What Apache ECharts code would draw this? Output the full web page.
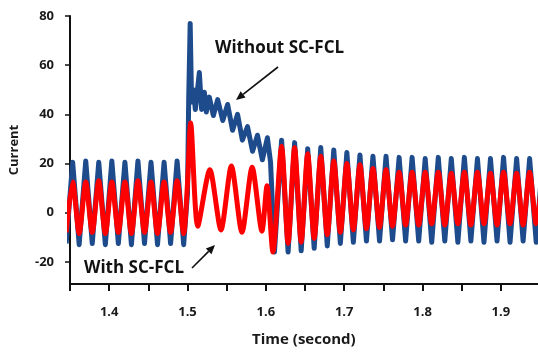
<!DOCTYPE html>
<html>
<head>
<meta charset="utf-8">
<script src="https://cdn.jsdelivr.net/npm/echarts@6/dist/echarts.min.js"></script>
<style>
  html, body { margin: 0; padding: 0; background: #fff; }
  #chart { width: 538px; height: 352px; }
</style>
</head>
<body>
<div id="chart"></div>
<script>
// Fault current, without limiter (blue) and with SC-FCL (red)
const blueTime = [
  1.3451, 1.3534, 1.3617, 1.3701, 1.3784, 1.3867, 1.3951, 1.4034, 1.4117, 1.4201,
  1.4284, 1.4367, 1.4451, 1.4534, 1.4617, 1.4701, 1.4784, 1.4867, 1.4951,
  1.5000, 1.5015, 1.5034, 1.5052, 1.5075, 1.5100, 1.5151, 1.5180, 1.5215, 1.5240,
  1.5278, 1.5330, 1.5385, 1.5450, 1.5512, 1.5575, 1.5639, 1.5700, 1.5766, 1.5830,
  1.5893, 1.5955, 1.6020, 1.6060, 1.6110,
  1.6201, 1.6284, 1.6367, 1.6451, 1.6534, 1.6617, 1.6701, 1.6784, 1.6867, 1.6951,
  1.7034, 1.7117, 1.7201, 1.7284, 1.7367, 1.7451, 1.7534, 1.7617, 1.7701, 1.7784,
  1.7867, 1.7951, 1.8034, 1.8117, 1.8201, 1.8284, 1.8367, 1.8451, 1.8534, 1.8617,
  1.8701, 1.8784, 1.8867, 1.8951, 1.9034, 1.9117, 1.9201, 1.9284, 1.9367, 1.9451, 1.9534
];
const blueCurrent = [
  -12.5, 20.5, -13, 21, -12.5, 20.5, -13, 21, -12.5, 20.5,
  -13, 21, -12.5, 20.5, -13, 20.5, -12.5, 21, -13,
  8, 46, 77, 45, 50, 42, 57, 42, 49, 41,
  47, 39.5, 46, 37.5, 44, 33.5, 40, 29.5, 35, 25,
  31.5, 21.5, 30.5, 20.5, -16,
  29.5, -16, 28.5, -15.5, 26, -14.5, 26.5, -13.5, 25.5, -12.5,
  24.5, -12, 23.5, -11.5, 23, -11.5, 23, -11, 22.5, -11.5,
  22.5, -11.5, 22, -12, 22.5, -11.5, 22, -12, 22.5, -11.5,
  22, -12, 22, -11.5, 22.5, -12, 22, -11.5, 22, -12, 22
];

const redTime = [
  1.3451, 1.3534, 1.3617, 1.3701, 1.3784, 1.3867, 1.3951, 1.4034, 1.4117, 1.4201,
  1.4284, 1.4367, 1.4451, 1.4534, 1.4617, 1.4701, 1.4784, 1.4867, 1.4951,
  1.5000, 1.5040, 1.5131, 1.5285, 1.5427, 1.5560, 1.5695, 1.5825, 1.5950, 1.6015, 1.6090,
  1.6201, 1.6284, 1.6367, 1.6451, 1.6534, 1.6617, 1.6701, 1.6784, 1.6867, 1.6951,
  1.7034, 1.7117, 1.7201, 1.7284, 1.7367, 1.7451, 1.7534, 1.7617, 1.7701, 1.7784,
  1.7867, 1.7951, 1.8034, 1.8117, 1.8201, 1.8284, 1.8367, 1.8451, 1.8534, 1.8617,
  1.8701, 1.8784, 1.8867, 1.8951, 1.9034, 1.9117, 1.9201, 1.9284, 1.9367, 1.9451, 1.9534
];
const redCurrent = [
  -8, 12.5, -8.5, 12.5, -8, 13, -8.5, 12.5, -8, 12.5,
  -8.5, 13, -8, 12.5, -8.5, 12.5, -8, 13, -8.5,
  12, 36.5, -5.5, 17.5, -7, 19, -8, 18.5, -7.5, 11, -16,
  27, -12.5, 26.5, -12, 24, -10.5, 23, -9, 21, -8,
  20, -7, 19.5, -6.5, 18, -6, 17.5, -5.5, 16.5, -5,
  16.5, -5, 16.5, -4.5, 16.5, -5, 16, -4.5, 16.5, -5,
  16.5, -4.5, 16, -5, 16.5, -4.5, 16, -5, 16.5, -4.5, 16
];

// Axis ticks and labels
const xTicks = [1.35, 1.4, 1.45, 1.5, 1.55, 1.6, 1.65, 1.7, 1.75, 1.8, 1.85, 1.9];
const xLabels = [1.4, 1.5, 1.6, 1.7, 1.8, 1.9];
const yTicks = [-20, 0, 20, 40, 60, 80];

const seriesNames = ['Without SC-FCL', 'With SC-FCL'];
const FONT = '"Open Sans", Lato, sans-serif';

const chart = echarts.init(document.getElementById('chart'), null, { renderer: 'canvas' });

function arrow(x1, y1, x2, y2) {
  // shaft from (x1,y1) to a filled head at (x2,y2)
  const ang = Math.atan2(y2 - y1, x2 - x1);
  const len = 9, half = 4;
  const bx = x2 - len * Math.cos(ang), by = y2 - len * Math.sin(ang);
  const px = -Math.sin(ang) * half, py = Math.cos(ang) * half;
  return [
    { type: 'line', shape: { x1: x1, y1: y1, x2: bx, y2: by },
      style: { stroke: '#111', lineWidth: 1.6 }, z: 100 },
    { type: 'polygon', shape: { points: [[x2, y2], [bx + px, by + py], [bx - px, by - py]] },
      style: { fill: '#111' }, z: 100 }
  ];
}

const axisFont = { fontFamily: FONT, fontWeight: 'bold', fontSize: 13, color: '#1a1a1a' };

chart.setOption({
  animation: false,
  backgroundColor: '#fff',
  grid: { left: 68.5, right: 0.3, top: 16, bottom: 63.5, containLabel: false },
  xAxis: {
    type: 'value',
    min: 1.35, max: 1.947,
    name: 'Time (second)',
    nameLocation: 'middle',
    nameGap: 48,
    nameTextStyle: Object.assign({}, axisFont, { fontSize: 15 }),
    splitLine: { show: false },
    axisLine: { show: true, onZero: false, lineStyle: { color: '#111', width: 2 } },
    axisTick: { show: true, inside: false, length: 7, customValues: xTicks,
      lineStyle: { color: '#111', width: 2 } },
    axisLabel: Object.assign({ margin: 22, customValues: xLabels,
      formatter: v => v.toFixed(1) }, axisFont)
  },
  yAxis: {
    type: 'value',
    min: -29, max: 80,
    name: 'Current',
    nameLocation: 'middle',
    nameGap: 49,
    nameRotate: 90,
    nameTextStyle: Object.assign({}, axisFont, { fontSize: 13 }),
    splitLine: { show: false },
    axisLine: { show: true, onZero: false, lineStyle: { color: '#111', width: 2 } },
    axisTick: { show: true, inside: false, length: 5, customValues: yTicks,
      lineStyle: { color: '#111', width: 1.5 } },
    axisLabel: Object.assign({ margin: 16, customValues: yTicks }, axisFont)
  },
  series: [
    {
      name: seriesNames[0],
      type: 'line',
      data: blueTime.map((t, i) => [t, blueCurrent[i]]),
      showSymbol: false,
      smooth: false,
      clip: true,
      lineStyle: { color: '#1d4b8c', width: 5, join: 'round' },
      z: 2
    },
    {
      name: seriesNames[1],
      type: 'line',
      data: redTime.map((t, i) => [t, redCurrent[i]]),
      showSymbol: false,
      smooth: 0.25,
      clip: true,
      lineStyle: { color: '#ff0000', width: 5, join: 'round' },
      z: 3
    }
  ],
  graphic: [
    { type: 'text', left: 215, top: 40, z: 100,
      style: { text: seriesNames[0], font: 'bold 17px ' + FONT, fill: '#111' } },
    { type: 'text', left: 84, top: 260, z: 100,
      style: { text: seriesNames[1], font: 'bold 17px ' + FONT, fill: '#111' } },
    ...arrow(278, 67, 236, 100),
    ...arrow(192, 268, 215, 245)
  ]
});
</script>
</body>
</html>
